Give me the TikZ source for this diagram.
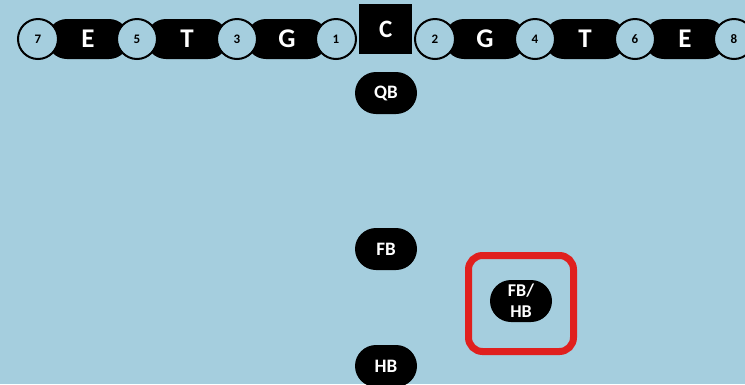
\documentclass[tikz,border=0pt]{standalone}
\usepackage{fontspec}
\setmainfont{Carlito}
\usetikzlibrary{shapes.misc}
\begin{document}
\begin{tikzpicture}[x=1pt,y=-1pt,
  num/.style={circle,draw=black,line width=2pt,fill=bg,minimum size=40pt,inner sep=0pt,font=\fontsize{13}{13}\selectfont\bfseries},
  pillbig/.style={rounded rectangle,fill=black,text=white,minimum width=82pt,minimum height=40pt,inner sep=0pt,font=\fontsize{27}{27}\selectfont\bfseries},
  pill/.style={rounded rectangle,fill=black,text=white,minimum width=62pt,minimum height=42pt,inner sep=0pt,font=\fontsize{19}{19}\selectfont\bfseries}]
\definecolor{bg}{HTML}{A5CEDE}
\definecolor{redbox}{HTML}{E0201E}
\useasboundingbox[fill=bg] (0,0) rectangle (745,384);
% pills behind circles
\node[pillbig] (E1) at (88,39) {E};
\node[pillbig] (T1) at (187,39) {T};
\node[pillbig] (G1) at (287,39) {G};
\node[pillbig] (G2) at (485,39) {G};
\node[pillbig] (T2) at (585,39) {T};
\node[pillbig] (E2) at (685,39) {E};
\node[num] (n7) at (38,39) {7};
\node[num] (n5) at (137,39) {5};
\node[num] (n3) at (237,39) {3};
\node[num] (n1) at (336,39) {1};
\node[num] (n2) at (435,39) {2};
\node[num] (n4) at (535,39) {4};
\node[num] (n6) at (635,39) {6};
\node[num] (n8) at (734,39) {8};
\node[fill=black,text=white,minimum width=53pt,minimum height=50pt,inner sep=0pt,anchor=north west,font=\fontsize{25}{25}\selectfont\bfseries] (C) at (359,4) {C};
\node[pill] (QB) at (386,93) {QB};
\node[pill] (FB) at (386,249) {FB};
\node[pill] (HB) at (386,366) {HB};
\node[pill,align=center,font=\fontsize{18}{21}\selectfont\bfseries] (FBHB) at (521,301) {FB/\\HB};
\draw[redbox,line width=7pt,rounded corners=14pt] (468.5,255.5) rectangle (573.5,351.5);
\end{tikzpicture}
\end{document}
